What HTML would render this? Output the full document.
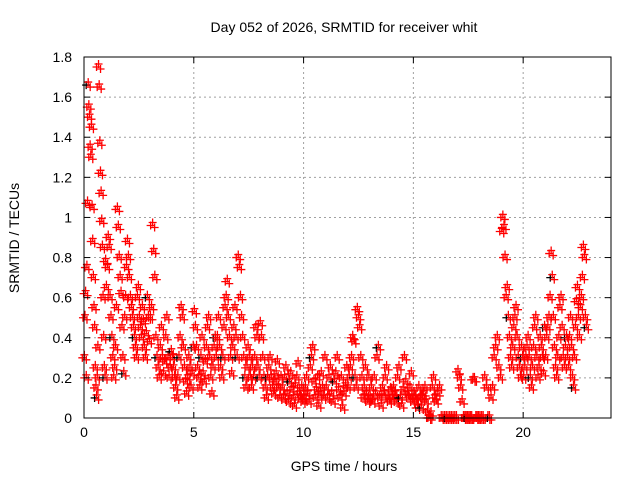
<!DOCTYPE html>
<html><head><meta charset="utf-8"><style>
body{margin:0;background:#fff;}
svg{display:block;font-family:"Liberation Sans",sans-serif;}
</style></head><body>
<svg id="c" width="640" height="480">
<text x="344" y="32" text-anchor="middle" font-size="14">Day 052 of 2026, SRMTID for receiver whit</text>
<text x="344" y="471" text-anchor="middle" font-size="14">GPS time / hours</text>
<text transform="translate(19,238) rotate(-90)" text-anchor="middle" font-size="14">SRMTID / TECUs</text>
<g id="grid"></g><g id="pts"></g><g id="axes"></g>
</svg>
<script>
const xTicks=[0,5,10,15,20];
const yTicks=[0,0.2,0.4,0.6,0.8,1,1.2,1.4,1.6,1.8];
const yTickLabels=["0","0.2","0.4","0.6","0.8","1","1.2","1.4","1.6","1.8"];
const hourBins=[
[0.3,0.5,0.62,0.2,0.75,1.07,1.66,1.55,1.5,1.35,1.3,1.45,1.05,0.88,0.7,0.55,0.45,0.25,0.15,0.1,0.2,0.35,1.75,1.65,1.37,1.22,1.12,0.98,0.85,0.6,0.4,0.25,0.2,0.78],
[0.65,0.75,0.9,0.85,0.6,0.5,0.4,0.3,0.2,0.25,0.35,0.55,1.04,0.95,0.8,0.7,0.62,0.45,0.3,0.22,0.5,0.6,0.75,0.88],
[0.8,0.7,0.6,0.55,0.5,0.45,0.4,0.35,0.3,0.6,0.65,0.5,0.45,0.4,0.55,0.48,0.35,0.3,0.42,0.6,0.5,0.38],
[0.5,0.55,0.96,0.83,0.7,0.4,0.3,0.25,0.2,0.35,0.45,0.3,0.22,0.28,0.4,0.5,0.3,0.2,0.25,0.33],
[0.3,0.25,0.2,0.15,0.1,0.2,0.3,0.4,0.55,0.5,0.35,0.25,0.18,0.12,0.2,0.3,0.25,0.15,0.22,0.35],
[0.53,0.45,0.35,0.25,0.2,0.15,0.3,0.4,0.22,0.18,0.28,0.35,0.45,0.5,0.3,0.2,0.12,0.25,0.35,0.4],
[0.3,0.4,0.5,0.35,0.25,0.2,0.3,0.45,0.55,0.6,0.68,0.5,0.4,0.3,0.22,0.35,0.45,0.55,0.4,0.3],
[0.8,0.75,0.6,0.5,0.4,0.3,0.2,0.15,0.25,0.35,0.3,0.2,0.15,0.25,0.2,0.3,0.45,0.4,0.25,0.2],
[0.47,0.4,0.3,0.2,0.15,0.1,0.2,0.25,0.3,0.2,0.15,0.12,0.18,0.22,0.28,0.15,0.1,0.2],
[0.15,0.1,0.2,0.25,0.12,0.08,0.18,0.22,0.14,0.1,0.06,0.16,0.2,0.27,0.12,0.1,0.15,0.08],
[0.1,0.15,0.2,0.12,0.08,0.25,0.3,0.35,0.18,0.1,0.14,0.2,0.06,0.12,0.22,0.15,0.1,0.3],
[0.15,0.1,0.2,0.25,0.12,0.08,0.18,0.22,0.3,0.14,0.1,0.2,0.05,0.12,0.16,0.25],
[0.15,0.2,0.25,0.3,0.4,0.38,0.2,0.15,0.54,0.5,0.45,0.3,0.2,0.1,0.15,0.25,0.12,0.08,0.2],
[0.1,0.15,0.08,0.2,0.12,0.3,0.35,0.1,0.06,0.15,0.12,0.2,0.25,0.1,0.08,0.14],
[0.1,0.15,0.12,0.08,0.2,0.25,0.1,0.06,0.14,0.3,0.18,0.12,0.1,0.15,0.22,0.08],
[0.12,0.1,0.08,0.05,0.15,0.1,0.05,0.1,0.12,0.15,0.08,0.03,0,0,0.02,0.15,0.2,0.1],
[0.08,0.12,0.15,0,0,0,0,0,0,0,0,0,0],
[0.23,0.2,0.15,0.08,0,0,0,0,0,0,0,0.19,0.19,0,0,0],
[0,0,0,0.2,0.15,0,0,0.1,0.15,0.3,0.35,0.4,0.25,0.2],
[0.93,1.0,0.95,0.8,0.6,0.65,0.5,0.4,0.3,0.25,0.35,0.45,0.5,0.55,0.4,0.3,0.25,0.2,0.35,0.3],
[0.2,0.25,0.3,0.35,0.4,0.3,0.2,0.15,0.25,0.35,0.45,0.5,0.3,0.2,0.25,0.4,0.35,0.3,0.22,0.45],
[0.3,0.4,0.45,0.5,0.6,0.82,0.7,0.5,0.35,0.25,0.2,0.3,0.4,0.55,0.6,0.45,0.3,0.25,0.35,0.4],
[0.3,0.25,0.4,0.5,0.35,0.2,0.15,0.3,0.45,0.58,0.65,0.5,0.4,0.55,0.6,0.7,0.85,0.8,0.5,0.45]
];
const binStarts=[0,1,2,3,4,5,6,7,8,9,10,11,12,13,14,15,16,17,18,19,20,21,22];
const binWidths=[1,1,1,1,1,1,1,1,1,1,1,1,1,1,1,1,1,1,1,1,1,1,0.9];
const L=84,R=611,T=57,B=418,XMAX=24,YMAX=1.8;
const X=v=>L+(R-L)*v/XMAX, Y=v=>B-(B-T)*v/YMAX;
const NS="http://www.w3.org/2000/svg";
function mk(t,a,p){const e=document.createElementNS(NS,t);for(const k in a)e.setAttribute(k,a[k]);p.appendChild(e);return e;}
const grid=document.getElementById('grid'),axes=document.getElementById('axes'),pts=document.getElementById('pts');
xTicks.forEach(v=>{
 if(v>0){const g=mk('line',{x1:X(v),x2:X(v),y1:T,y2:B,stroke:'#a0a0a0','stroke-dasharray':'2,3'},grid);
 
 }
 mk('line',{x1:X(v),x2:X(v),y1:B,y2:B-6,stroke:'#000'},axes);
 mk('line',{x1:X(v),x2:X(v),y1:T,y2:T+6,stroke:'#000'},axes);
 const t=mk('text',{x:X(v),y:B+19,'text-anchor':'middle','font-size':14},axes);t.textContent=v;
 
 
});
yTicks.forEach((v,i)=>{
 if(v>0&&v<YMAX){const g=mk('line',{x1:L,x2:R,y1:Y(v),y2:Y(v),stroke:'#a0a0a0','stroke-dasharray':'2,3'},grid);
 
 }
 mk('line',{x1:L,x2:L+6,y1:Y(v),y2:Y(v),stroke:'#000'},axes);
 mk('line',{x1:R,x2:R-6,y1:Y(v),y2:Y(v),stroke:'#000'},axes);
 const t=mk('text',{x:L-12,y:Y(v)+5,'text-anchor':'end','font-size':14},axes);t.textContent=yTickLabels[i];
 
 
});
const frame=mk('rect',{x:L,y:T,width:R-L,height:B-T,fill:'none',stroke:'#000'},axes);


hourBins.forEach((vals,b)=>{
 vals.forEach((v,i)=>{
  const t=binStarts[b]+binWidths[b]*(i+0.5)/vals.length;
  const x=X(t),y=Y(v);
  const s=4;
  [-2,0,2].forEach((dx,k)=>{
   const dy=[0,-3,2][k];
   const black=(i%13==6)&&k==0;
   const p=mk('path',{d:`M${x+dx-s},${y+dy}h${2*s}M${x+dx},${y+dy-s}v${2*s}`,stroke:black?'#000':'#f00','stroke-width':1.3},pts);
   
   
  });
 });
});
</script>
</body></html>
